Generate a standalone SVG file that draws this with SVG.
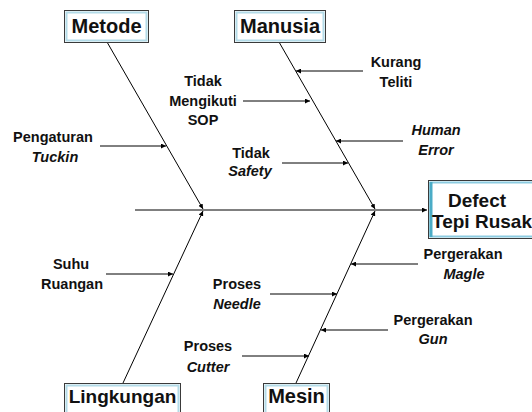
<svg xmlns="http://www.w3.org/2000/svg" width="532" height="412" viewBox="0 0 532 412">
<defs>
<marker id="ah" viewBox="0 0 10 10" refX="10" refY="5" markerWidth="5" markerHeight="5" markerUnits="userSpaceOnUse" orient="auto">
<path d="M0,0 L10,5 L0,10 z" fill="#000"/>
</marker>
<style>
.ln{stroke:#000;stroke-width:1;fill:none;marker-end:url(#ah)}
.box{fill:#fff;stroke:#3a3a3a;stroke-width:1}
.inner{fill:none;stroke:#b3dbe8;stroke-width:2}
.t{font-family:"Liberation Sans",Arial,sans-serif;font-weight:bold;font-size:14.5px;fill:#111;text-anchor:middle}
.i{font-style:italic}
.h{font-family:"Liberation Sans",Arial,sans-serif;font-weight:bold;font-size:20px;fill:#111;text-anchor:middle}
</style>
</defs>
<rect width="532" height="412" fill="#fff"/>
<g id="connectors">
<line class="ln" x1="135" y1="210" x2="427" y2="210"/>
<line class="ln" x1="107" y1="42" x2="203" y2="209"/>
<line class="ln" x1="123" y1="383" x2="203" y2="211"/>
<line class="ln" x1="279" y1="42" x2="375" y2="209"/>
<line class="ln" x1="296" y1="383" x2="375" y2="211"/>
<line class="ln" x1="100" y1="146" x2="166" y2="146"/>
<line class="ln" x1="363" y1="71" x2="296" y2="71"/>
<line class="ln" x1="243" y1="101" x2="310" y2="101"/>
<line class="ln" x1="403" y1="141" x2="336" y2="141"/>
<line class="ln" x1="282" y1="163" x2="348" y2="163"/>
<line class="ln" x1="106" y1="274" x2="173" y2="274"/>
<line class="ln" x1="418" y1="264" x2="351" y2="264"/>
<line class="ln" x1="270" y1="294" x2="337" y2="294"/>
<line class="ln" x1="388" y1="330" x2="321" y2="330"/>
<line class="ln" x1="242" y1="356" x2="309" y2="356"/>
</g>
<g id="metode">
<rect class="box" x="64.5" y="10.5" width="84" height="32"/>
<rect class="inner" x="66.5" y="12.5" width="80" height="28"/>
<text class="h" x="106.5" y="33">Metode</text>
</g>
<g id="manusia">
<rect class="box" x="234.5" y="10.5" width="91" height="32"/>
<rect class="inner" x="236.5" y="12.5" width="87" height="28"/>
<text class="h" x="280" y="33">Manusia</text>
</g>
<g id="lingkungan">
<rect class="box" x="64.5" y="383.5" width="116" height="32"/>
<rect class="inner" x="66.5" y="385.5" width="112" height="28"/>
<text class="h" x="122.5" y="403" style="font-size:19px">Lingkungan</text>
</g>
<g id="mesin">
<rect class="box" x="263.5" y="383.5" width="66" height="32"/>
<rect class="inner" x="265.5" y="385.5" width="62" height="28"/>
<text class="h" x="296.5" y="403">Mesin</text>
</g>
<g id="defect">
<rect class="box" x="428.5" y="180.5" width="110" height="58"/>
<rect class="inner" x="430.5" y="182.5" width="106" height="54" style="stroke:#8ccbe0"/>
<line x1="431" y1="182" x2="431" y2="237" stroke="#4bacc6" stroke-width="3"/>
<text class="h" x="477" y="207" style="font-size:19px">Defect</text>
<text class="h" x="432" y="228" style="font-size:19px;text-anchor:start">Tepi Rusak</text>
</g>
<g id="pengaturan-tuckin">
<text class="t" x="53" y="142">Pengaturan</text>
<text class="t i" x="55" y="162">Tuckin</text>
</g>
<g id="tidak-mengikuti-sop">
<text class="t" x="203" y="86">Tidak</text>
<text class="t" x="203" y="105.5">Mengikuti</text>
<text class="t" x="203" y="125">SOP</text>
</g>
<g id="kurang-teliti">
<text class="t" x="396" y="67">Kurang</text>
<text class="t" x="396" y="87">Teliti</text>
</g>
<g id="human-error">
<text class="t i" x="436" y="135">Human</text>
<text class="t i" x="436" y="155">Error</text>
</g>
<g id="tidak-safety">
<text class="t" x="251" y="158">Tidak</text>
<text class="t i" x="250" y="176">Safety</text>
</g>
<g id="suhu-ruangan">
<text class="t" x="71" y="269">Suhu</text>
<text class="t" x="72" y="289">Ruangan</text>
</g>
<g id="pergerakan-magle">
<text class="t" x="463" y="259">Pergerakan</text>
<text class="t i" x="464" y="279">Magle</text>
</g>
<g id="proses-needle">
<text class="t" x="237" y="289">Proses</text>
<text class="t i" x="237" y="309">Needle</text>
</g>
<g id="pergerakan-gun">
<text class="t" x="433" y="325">Pergerakan</text>
<text class="t i" x="433" y="344">Gun</text>
</g>
<g id="proses-cutter">
<text class="t" x="208" y="351">Proses</text>
<text class="t i" x="208" y="372">Cutter</text>
</g>
</svg>
